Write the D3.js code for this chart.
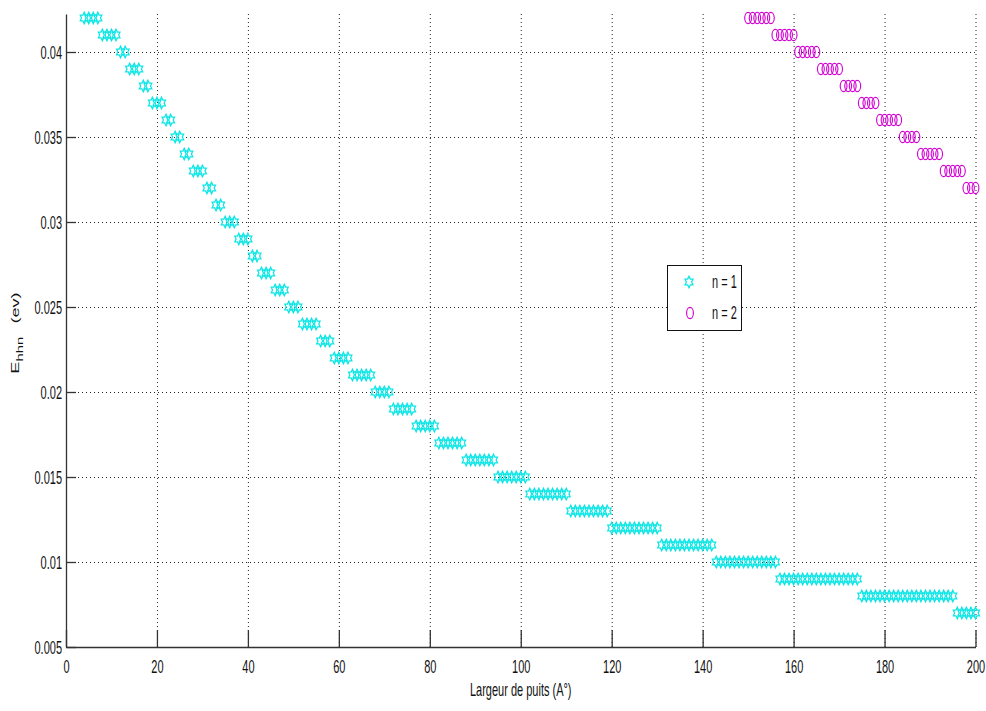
<!DOCTYPE html>
<html lang="en">
<head>
  <meta charset="UTF-8" />
  <title>Ehhn vs largeur de puits</title>
  <style>
    body { margin: 0; background: #fff; }
    svg text { font-family: "Liberation Sans", Arial, sans-serif; fill: #111; }
  </style>
  <script src="https://d3js.org/d3.v7.min.js"></script>
</head>
<body>
<script>
  // energy levels (ev) and the first well width (A) where each level starts
  const n1Energy = [0.042, 0.041, 0.040, 0.039, 0.038, 0.037, 0.036, 0.035, 0.034, 0.033,
                    0.032, 0.031, 0.030, 0.029, 0.028, 0.027, 0.026, 0.025, 0.024, 0.023,
                    0.022, 0.021, 0.020, 0.019, 0.018, 0.017, 0.016, 0.015, 0.014, 0.013,
                    0.012, 0.011, 0.010, 0.009, 0.008, 0.007];
  const n1Start = [4, 8, 12, 14, 17, 19, 22, 24, 26, 28,
                   31, 33, 35, 38, 41, 43, 46, 49, 52, 56,
                   59, 63, 68, 72, 77, 82, 88, 95, 102, 111,
                   120, 131, 143, 157, 175, 196];
  const n2Energy = [0.042, 0.041, 0.040, 0.039, 0.038, 0.037, 0.036, 0.035, 0.034, 0.033, 0.032];
  const n2Start = [150, 156, 161, 166, 171, 175, 179, 184, 188, 193, 198];
  const lastWidth = 200;

  const xTicks = [0, 20, 40, 60, 80, 100, 120, 140, 160, 180, 200];
  const yTicks = [0.005, 0.01, 0.015, 0.02, 0.025, 0.03, 0.035, 0.04];
  const legendLabels = ["n = 1", "n = 2"];

  // one point per integer width, the level holds until the next start
  function expand(starts, energies) {
    const pts = [];
    starts.forEach((s, i) => {
      const end = i < starts.length - 1 ? starts[i + 1] - 1 : lastWidth;
      for (let w = s; w <= end; w++) pts.push({ w: w, e: energies[i] });
    });
    return pts;
  }
  const n1 = expand(n1Start, n1Energy);
  const n2 = expand(n2Start, n2Energy);

  const W = 986, H = 711;
  const plot = { left: 66, right: 975.5, top: 14, bottom: 647 };
  const sy = 1.65;  // the picture is stretched vertically

  const svg = d3.select("body").append("svg")
    .attr("width", W).attr("height", H);

  const x = d3.scaleLinear().domain([0, 200]).range([plot.left, plot.right]);
  const y = d3.scaleLinear().domain([0.005, 0.005 + (plot.bottom - plot.top) / 17000])
    .range([plot.bottom, plot.top]);

  const fmt = d => String(+d.toFixed(3));

  // dotted grid
  svg.append("g")
    .attr("transform", "translate(0," + plot.bottom + ")")
    .call(d3.axisBottom(x).tickValues(xTicks.slice(1)).tickSize(-(plot.bottom - plot.top)).tickFormat(""))
    .call(g => g.select(".domain").remove())
    .selectAll("line").attr("stroke", "#222").attr("stroke-dasharray", "1,3");
  svg.append("g")
    .attr("transform", "translate(" + plot.left + ",0)")
    .call(d3.axisLeft(y).tickValues(yTicks.slice(1)).tickSize(-(plot.right - plot.left)).tickFormat(""))
    .call(g => g.select(".domain").remove())
    .selectAll("line").attr("stroke", "#222").attr("stroke-dasharray", "1,3");

  // axes, ticks pointing inwards
  const xAxis = svg.append("g")
    .attr("transform", "translate(0," + plot.bottom + ")")
    .call(d3.axisBottom(x).tickValues(xTicks).tickSizeInner(-17).tickSizeOuter(0).tickFormat(d => d));
  const yAxis = svg.append("g")
    .attr("transform", "translate(" + plot.left + ",0)")
    .call(d3.axisLeft(y).tickValues(yTicks).tickSizeInner(-10).tickSizeOuter(0).tickFormat(fmt));

  [xAxis, yAxis].forEach(g => {
    g.attr("font-family", null).attr("font-size", null);
    g.select(".domain").attr("stroke", "#333").attr("stroke-width", 1.3);
    g.selectAll(".tick line").attr("stroke", "#333").attr("stroke-width", 1.3);
    g.selectAll(".tick text").attr("font-size", 11).attr("fill", "#111");
  });
  xAxis.selectAll(".tick text")
    .attr("y", 15.8).attr("dy", 0)
    .attr("transform", "scale(1," + sy + ")");
  yAxis.selectAll(".tick text")
    .attr("x", -4).attr("y", 3.9).attr("dy", 0)
    .attr("transform", "scale(1," + sy + ")");

  // markers
  function hexagram(rx, ry) {
    const pts = [];
    for (let i = 0; i < 12; i++) {
      const a = -Math.PI / 2 + i * Math.PI / 6;
      const r = i % 2 === 0 ? 1 : 1 / Math.sqrt(3);
      pts.push([rx * r * Math.cos(a), ry * r * Math.sin(a)]);
    }
    return "M" + pts.map(p => p[0].toFixed(2) + "," + p[1].toFixed(2)).join("L") + "Z";
  }
  const starPath = hexagram(4.6, 5.8);
  const cyan = "#0ee6e6", magenta = "#d400d4";

  svg.append("g").selectAll("path")
    .data(n1).enter().append("path")
    .attr("d", starPath)
    .attr("transform", d => "translate(" + x(d.w) + "," + y(d.e) + ")")
    .attr("fill", "none").attr("stroke", cyan).attr("stroke-width", 1.25);

  svg.append("g").selectAll("ellipse")
    .data(n2).enter().append("ellipse")
    .attr("cx", d => x(d.w)).attr("cy", d => y(d.e))
    .attr("rx", 3.4).attr("ry", 5.6)
    .attr("fill", "none").attr("stroke", magenta).attr("stroke-width", 1.15);

  // axis titles
  svg.append("text")
    .attr("transform", "translate(" + ((plot.left + plot.right) / 2) + ",696) scale(1," + sy + ")")
    .attr("text-anchor", "middle").attr("font-size", 11)
    .text("Largeur de puits (A°)");

  const yl = svg.append("text")
    .attr("transform", "translate(18.5,333) scale(1," + sy + ") rotate(-90)")
    .attr("text-anchor", "middle").attr("font-size", 11);
  yl.append("tspan").text("E");
  yl.append("tspan").attr("font-size", 9).attr("dy", 4).text("hhn");
  yl.append("tspan").attr("dy", -4).attr("dx", 8).text("(ev)");

  // legend
  const lg = svg.append("g");
  lg.append("rect")
    .attr("x", 667.5).attr("y", 265.5).attr("width", 74).attr("height", 65)
    .attr("fill", "#fff").attr("stroke", "#111").attr("stroke-width", 1);
  const items = [
    { label: legendLabels[0], cy: 282 },
    { label: legendLabels[1], cy: 313 }
  ];
  lg.append("path").attr("d", starPath)
    .attr("transform", "translate(689," + items[0].cy + ")")
    .attr("fill", "none").attr("stroke", cyan).attr("stroke-width", 1.25);
  lg.append("ellipse").attr("cx", 690).attr("cy", items[1].cy)
    .attr("rx", 3.4).attr("ry", 5.6)
    .attr("fill", "none").attr("stroke", magenta).attr("stroke-width", 1.15);
  items.forEach(it => {
    lg.append("text")
      .attr("transform", "translate(712," + it.cy + ") scale(1," + sy + ")")
      .attr("y", 3.9).attr("font-size", 11)
      .text(it.label);
  });
</script>
</body>
</html>
